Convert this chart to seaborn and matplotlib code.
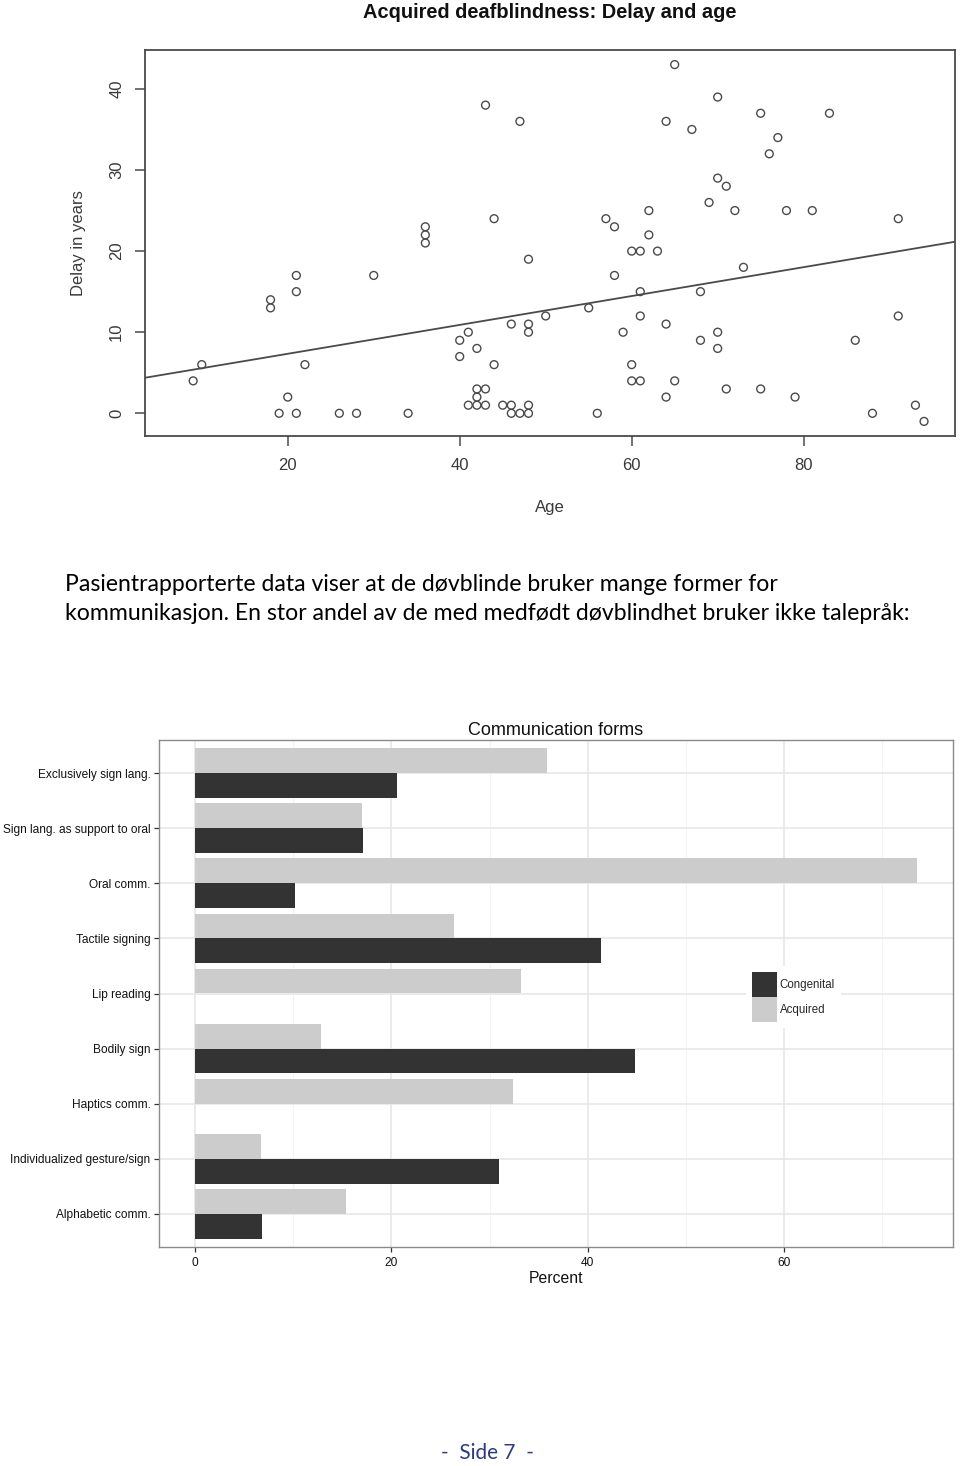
import numpy as np
import pandas as pd
import matplotlib
matplotlib.use("Agg")
import matplotlib.pyplot as plt
import seaborn as sns
from matplotlib.patches import Patch
from matplotlib.ticker import MultipleLocator

# ---------------- data: scatter (Acquired deafblindness) ----------------
age = [43, 47, 44, 36, 36, 36, 48, 21, 21, 30, 18, 18, 50, 46, 48, 48, 41, 40, 40, 42,
       44, 22, 10, 9, 20, 19, 21, 26, 28, 34, 42, 43, 42, 41, 42, 43, 45, 46, 46, 47,
       48, 48,
       65, 70, 64, 67, 75, 83, 77, 76, 70, 71, 69, 62, 72, 78, 81, 91, 57, 58, 62, 60,
       61, 63, 58, 73, 61, 68, 55, 61, 91, 59, 64, 70, 68, 70, 86, 60, 60, 61, 65, 64,
       71, 75, 79, 56, 88, 93, 94]
delay = [38, 36, 24, 23, 22, 21, 19, 17, 15, 17, 14, 13, 12, 11, 11, 10, 10, 9, 7, 8,
         6, 6, 6, 4, 2, 0, 0, 0, 0, 0, 3, 3, 2, 1, 1, 1, 1, 1, 0, 0,
         0, 1,
         43, 39, 36, 35, 37, 37, 34, 32, 29, 28, 26, 25, 25, 25, 25, 24, 24, 23, 22, 20,
         20, 20, 17, 18, 15, 15, 13, 12, 12, 10, 11, 10, 9, 8, 9, 6, 4, 4, 4, 2,
         3, 3, 2, 0, 0, 1, -1]
scatter_xticks = [20, 40, 60, 80]
scatter_yticks = [0, 10, 20, 30, 40]

# ---------------- data: bar chart (Communication forms) ----------------
categories = ["Exclusively sign lang.", "Sign lang. as support to oral", "Oral comm.",
              "Tactile signing", "Lip reading", "Bodily sign", "Haptics comm.",
              "Individualized gesture/sign", "Alphabetic comm."]
congenital = [20.6, 17.1, 10.2, 41.3, 0.0, 44.8, 0.0, 31.0, 6.8]
acquired = [35.8, 17.0, 73.5, 26.4, 33.2, 12.8, 32.4, 6.7, 15.4]
groups = ["Congenital", "Acquired"]
group_colors = {"Congenital": "#333333", "Acquired": "#CCCCCC"}
bar_xticks = [0, 20, 40, 60]

paragraph = ["Pasientrapporterte data viser at de døvblinde bruker mange former for",
             "kommunikasjon. En stor andel av de med medfødt døvblindhet bruker ikke talepråk:"]
footer = "-  Side 7  -"

# ---------------- style ----------------
sns.set_style("white")
plt.rcParams["font.family"] = ["Liberation Sans", "DejaVu Sans"]

W, H = 960, 1466
fig = plt.figure(figsize=(W / 100, H / 100), dpi=100)
fig.patch.set_facecolor("white")


def frac_box(left, top, right, bottom):
    return [left / W, 1 - bottom / H, (right - left) / W, (bottom - top) / H]


# ================= scatter plot =================
ax1 = fig.add_axes(frac_box(145, 50, 955, 436))
ax1.set_xlim(3.4, 97.6)
ax1.set_ylim(-2.8, 44.8)
line_col = "#4A4A4A"
sns.scatterplot(x=age, y=delay, ax=ax1, marker="o", s=32,
                facecolor="none", edgecolor=line_col, linewidth=1.0, zorder=3)
sns.regplot(x=np.array(age, float), y=np.array(delay, float), ax=ax1, scatter=False,
            ci=None, truncate=False, line_kws=dict(color=line_col, lw=1.3))
ax1.set_xlim(3.4, 97.6)
ax1.set_ylim(-2.8, 44.8)
ax1.set_xticks(scatter_xticks)
ax1.set_yticks(scatter_yticks)
for sp in ax1.spines.values():
    sp.set_visible(True)
    sp.set_color(line_col)
    sp.set_linewidth(1.3)
ax1.tick_params(axis="both", which="major", direction="out", length=7.5, width=1.1,
                color=line_col, labelsize=12, labelcolor="#3A3A3A",
                bottom=True, left=True, top=False, right=False)
ax1.tick_params(axis="x", pad=8.5)
ax1.tick_params(axis="y", pad=7.5, labelrotation=90)
for lab in ax1.get_yticklabels():
    lab.set_va("center")
ax1.set_xlabel("Age", fontsize=12, color="#3A3A3A", labelpad=19)
ax1.set_ylabel("Delay in years", fontsize=12, color="#3A3A3A", labelpad=17)
ax1.set_title("Acquired deafblindness: Delay and age", fontsize=14.4,
              fontweight="bold", color="#111111", pad=23)

# ================= bar chart =================
ax2 = fig.add_axes(frac_box(159, 740, 952.7, 1247))
df = pd.DataFrame({
    "form": categories * 2,
    "group": ["Congenital"] * len(categories) + ["Acquired"] * len(categories),
    "percent": congenital + acquired,
})
sns.barplot(data=df, x="percent", y="form", hue="group", order=categories,
            hue_order=["Acquired", "Congenital"], palette=group_colors,
            orient="h", width=0.9, gap=0, errorbar=None, legend=False,
            linewidth=0, edgecolor="none", ax=ax2, zorder=2)
xmax = max(max(congenital), max(acquired))
ax2.set_xlim(-0.05 * xmax, 1.05 * xmax)
ax2.set_ylim(len(categories) - 0.4, -0.6)
ax2.set_xticks(bar_xticks)
ax2.xaxis.set_minor_locator(MultipleLocator(10))
ax2.set_axisbelow(True)
ax2.grid(True, which="major", axis="both", color="#E6E6E6", lw=1.1, zorder=0)
ax2.grid(True, which="minor", axis="x", color="#F3F3F3", lw=0.8, zorder=0)
for sp in ax2.spines.values():
    sp.set_visible(True)
    sp.set_color("#8A8A8A")
    sp.set_linewidth(1.0)
ax2.tick_params(axis="both", which="major", direction="out", length=3.6, width=0.9,
                color="#333333", labelsize=8.6, labelcolor="#111111", pad=2.5,
                bottom=True, left=True)
ax2.tick_params(axis="x", pad=3.5)
ax2.tick_params(axis="both", which="minor", length=0)
ax2.set_xlabel("Percent", fontsize=11.3, color="#111111", labelpad=1.5)
ax2.set_ylabel("")
ax2.set_title("Communication forms", fontsize=13, color="#111111", pad=3.6)

handles = [Patch(facecolor=group_colors[g], edgecolor="none", label=g) for g in groups]
leg = ax2.legend(handles=handles, loc="upper left",
                 bbox_to_anchor=(746 / W, 1 - 966 / H), bbox_transform=fig.transFigure,
                 fontsize=8.3, frameon=True, fancybox=False, framealpha=1,
                 edgecolor="white", facecolor="white", borderpad=0.5,
                 borderaxespad=0, handlelength=2.17, handleheight=2.96,
                 labelspacing=0, handletextpad=0.26)
leg.get_frame().set_linewidth(0)

# ================= text =================
texts = []
for i, line in enumerate(paragraph):
    t = fig.text(65 / W, 1 - (591 + 29 * i) / H, line, fontsize=15,
                 family=["Lato", "DejaVu Sans"], color="black", va="baseline", ha="left")
    texts.append(t)
fig.canvas.draw()
w2 = texts[1].get_window_extent().width
fs = 15 * 845 / w2
for t in texts:
    t.set_fontsize(fs)

fig.text(487.5 / W, 1 - 1453 / H, footer, fontsize=fs * 0.9, family=["Lato", "DejaVu Sans"],
         color="#2E3A80", ha="center", va="center")

fig.savefig("out.png", dpi=100, facecolor="white")
